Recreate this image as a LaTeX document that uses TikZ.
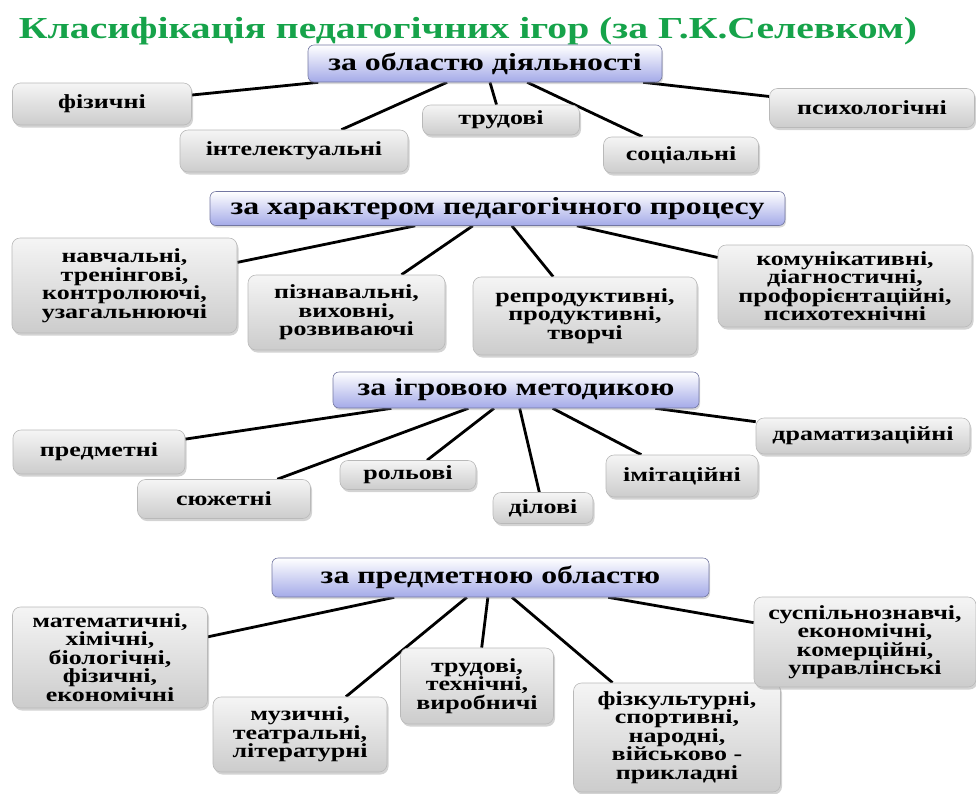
\documentclass[tikz,border=0pt]{standalone}
\usepackage{fontspec}
\setmainfont[FakeStretch=1.3]{Liberation Serif}
\usepackage{tikz}
\usetikzlibrary{calc}
\usetikzlibrary{shadows}
\usetikzlibrary{backgrounds}
\definecolor{titlegreen}{RGB}{22,163,74}
\definecolor{headblue}{RGB}{164,170,232}
\definecolor{headlight}{RGB}{208,211,247}

\begin{document}
\begin{tikzpicture}[x=1pt, y=-1pt,
    head/.style={draw=headblue!70!black, line width=.6pt, rounded corners=6pt,
      top color=white, middle color=headlight, bottom color=headblue,
      drop shadow={shadow xshift=1pt, shadow yshift=-2pt, opacity=.3},
      font=\fontsize{24.5}{26}\selectfont\bfseries, inner sep=2pt},
    leaf/.style={draw=gray!55, line width=.6pt, rounded corners=8pt,
      top color=gray!8, middle color=white, bottom color=gray!40,
      drop shadow={shadow xshift=1.5pt, shadow yshift=-2.5pt, opacity=.35},
      font=\fontsize{20}{18.5}\selectfont\bfseries, align=center, inner sep=2pt},
    link/.style={line width=2.8pt}]
\useasboundingbox (0,0) rectangle (976,793);
\node[anchor=base, text=titlegreen, font=\fontsize{30.5}{32}\selectfont\bfseries] (title) at (468,38) {Класифікація педагогічних ігор (за Г.К.Селевком)};

% за областю діяльності
\node[head, minimum width=354pt, minimum height=37pt] (act0) at (485,63.5) {за областю діяльності};
\node[leaf, minimum width=179pt, minimum height=42pt] (act1) at (102,104) {фізичні};
\node[leaf, minimum width=228pt, minimum height=42pt] (act2) at (294,151) {інтелектуальні};
\node[leaf, minimum width=157pt, minimum height=30pt] (act3) at (501,120) {трудові};
\node[leaf, minimum width=155pt, minimum height=36pt] (act4) at (681,155) {соціальні};
\node[leaf, minimum width=205pt, minimum height=39pt] (act5) at (872,108) {психологічні};

% за характером педагогічного процесу
\node[head, minimum width=575pt, minimum height=34pt] (proc0) at (497.5,208.5) {за характером педагогічного процесу};
\node[leaf, minimum width=225pt, minimum height=95pt] (proc1) at (124.5,285.5) {навчальні,\\тренінгові,\\контролюючі,\\узагальнюючі};
\node[leaf, minimum width=197pt, minimum height=75pt] (proc2) at (346.5,312.5) {пізнавальні,\\виховні,\\розвиваючі};
\node[leaf, minimum width=224pt, minimum height=78pt] (proc3) at (585,316) {репродуктивні,\\продуктивні,\\творчі};
\node[leaf, minimum width=254pt, minimum height=82pt] (proc4) at (845,286) {комунікативні,\\діагностичні,\\профорієнтаційні,\\психотехнічні};

% за ігровою методикою
\node[head, minimum width=366pt, minimum height=36pt] (meth0) at (516,390) {за ігровою методикою};
\node[leaf, minimum width=172pt, minimum height=44pt] (meth1) at (99,452) {предметні};
\node[leaf, minimum width=173pt, minimum height=39pt] (meth2) at (224,499) {сюжетні};
\node[leaf, minimum width=136pt, minimum height=29pt] (meth3) at (408,475) {рольові};
\node[leaf, minimum width=100pt, minimum height=31pt] (meth4) at (543,508) {ділові};
\node[leaf, minimum width=152pt, minimum height=42pt] (meth5) at (682,476) {імітаційні};
\node[leaf, minimum width=214pt, minimum height=36pt] (meth6) at (863,436) {драматизаційні};

% за предметною областю
\node[head, minimum width=437pt, minimum height=39pt] (subj0) at (490.5,577.5) {за предметною областю};
\node[leaf, minimum width=195pt, minimum height=101pt] (subj1) at (110,657.5) {математичні,\\хімічні,\\біологічні,\\фізичні,\\економічні};
\node[leaf, minimum width=174pt, minimum height=75pt] (subj2) at (300,734.5) {музичні,\\театральні,\\літературні};
\node[leaf, minimum width=153pt, minimum height=76pt] (subj3) at (477,686) {трудові,\\технічні,\\виробничі};
\node[leaf, minimum width=207pt, minimum height=109pt] (subj4) at (677,737.5) {фізкультурні,\\спортивні,\\народні,\\військово -\\прикладні};
\node[leaf, minimum width=222pt, minimum height=90pt] (subj5) at (865,642) {суспільнознавчі,\\економічні,\\комерційні,\\управлінські};

\begin{scope}[on background layer]
\draw[link] ($(act0.south west)!.03!(act0.south east)$) -- (act1);
\draw[link] ($(act0.south west)!.393!(act0.south east)$) -- (act2);
\draw[link] ($(act0.south west)!.514!(act0.south east)$) -- (act3);
\draw[link] ($(act0.south west)!.619!(act0.south east)$) -- (act4);
\draw[link] ($(act0.south west)!.946!(act0.south east)$) -- (act5);

\draw[link] ($(proc0.south west)!.357!(proc0.south east)$) -- (proc1);
\draw[link] ($(proc0.south west)!.457!(proc0.south east)$) -- (proc2);
\draw[link] ($(proc0.south west)!.525!(proc0.south east)$) -- (proc3);
\draw[link] ($(proc0.south west)!.638!(proc0.south east)$) -- (proc4);

\draw[link] ($(meth0.south west)!.16!(meth0.south east)$) -- (meth1);
\draw[link] ($(meth0.south west)!.37!(meth0.south east)$) -- (meth2);
\draw[link] ($(meth0.south west)!.44!(meth0.south east)$) -- (meth3);
\draw[link] ($(meth0.south west)!.51!(meth0.south east)$) -- (meth4);
\draw[link] ($(meth0.south west)!.60!(meth0.south east)$) -- (meth5);
\draw[link] ($(meth0.south west)!.88!(meth0.south east)$) -- (meth6);

\draw[link] ($(subj0.south west)!.28!(subj0.south east)$) -- (subj1);
\draw[link] ($(subj0.south west)!.446!(subj0.south east)$) -- (subj2);
\draw[link] ($(subj0.south west)!.494!(subj0.south east)$) -- (subj3);
\draw[link] ($(subj0.south west)!.549!(subj0.south east)$) -- (subj4);
\draw[link] ($(subj0.south west)!.769!(subj0.south east)$) -- (subj5);
\end{scope}
\end{tikzpicture}
\end{document}
